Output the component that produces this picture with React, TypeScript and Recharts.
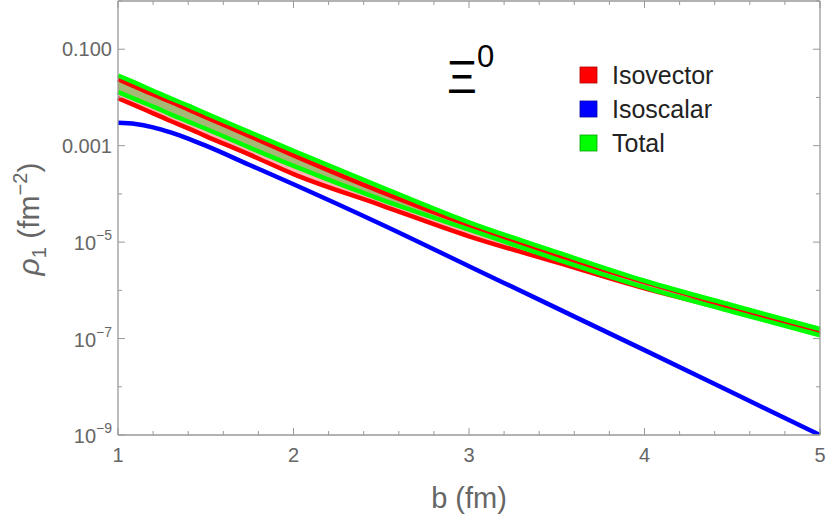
import React from 'react';
import { ComposedChart, Area, Line, XAxis, YAxis } from 'recharts';

// Impact parameter b (fm)
const bValues = [1, 1.1, 1.2, 1.3, 1.4, 1.5, 1.75, 2, 2.5, 3, 3.5, 4, 4.5, 5];

// Isovector band (fm^-2)
const isovectorUpper = [0.024, 0.0166, 0.0115, 0.00813, 0.00562, 0.00389, 0.00158, 6.3e-4, 1.1e-4, 2.24e-5, 5.4e-6, 1.48e-6, 4.6e-7, 1.48e-7];
const isovectorLower = [0.00964, 0.00676, 0.00468, 0.00324, 0.00229, 0.00158, 6.5e-4, 2.57e-4, 5.8e-5, 1.32e-5, 3.8e-6, 1.1e-6, 3.8e-7, 1.23e-7];

// Isoscalar curve (fm^-2)
const isoscalar = [0.00297, 0.00282, 0.0024, 0.00188, 0.0014, 0.001, 3.98e-4, 1.58e-4, 2.34e-5, 3.16e-6, 4.27e-7, 5.75e-8, 7.6e-9, 1.0e-9];

// Total band (fm^-2)
const totalUpper = [0.0285, 0.02, 0.0138, 0.00955, 0.00676, 0.00468, 0.00191, 7.8e-4, 1.38e-4, 2.57e-5, 6.2e-6, 1.58e-6, 4.9e-7, 1.58e-7];
const totalLower = [0.013, 0.00912, 0.00646, 0.00447, 0.00316, 0.00224, 9.1e-4, 3.8e-4, 7.6e-5, 1.82e-5, 4.4e-6, 1.15e-6, 3.6e-7, 1.17e-7];

const xTicks = [1, 1.2, 1.4, 1.6, 1.8, 2, 2.2, 2.4, 2.6, 2.8, 3, 3.2, 3.4, 3.6, 3.8, 4, 4.2, 4.4, 4.6, 4.8, 5];
const xMajor = [1, 2, 3, 4, 5];
const yTicks = [1e-9, 1e-8, 1e-7, 1e-6, 1e-5, 1e-4, 1e-3, 1e-2, 1e-1, 1];

const legendItems = [
  { name: 'Isovector', color: '#ff0000', border: '#b00000' },
  { name: 'Isoscalar', color: '#0000ff', border: '#0000a0' },
  { name: 'Total', color: '#00ff00', border: '#00a000' },
];

const data = bValues.map((b, i) => ({
  b,
  ivHi: isovectorUpper[i],
  ivLo: isovectorLower[i],
  ivBand: [isovectorLower[i], isovectorUpper[i]],
  is: isoscalar[i],
  totHi: totalUpper[i],
  totLo: totalLower[i],
  totBand: [totalLower[i], totalUpper[i]],
}));

const FONT = '"Liberation Sans", Arial, Helvetica, sans-serif';
const AXIS_COLOR = '#999999';
const TICK_TEXT = '#666666';

const W = 834;
const H = 521;

function isMajorX(v: number) {
  return xMajor.some((m) => Math.abs(m - v) < 1e-9);
}

function XTickMark(props: any) {
  const { x, y, payload, side } = props;
  const v = payload.value as number;
  const major = isMajorX(v);
  const len = major ? 7 : 4;
  if (side === 'top') {
    return <line x1={x} y1={y} x2={x} y2={y + len} stroke={AXIS_COLOR} strokeWidth={1} />;
  }
  return (
    <g>
      <line x1={x} y1={y} x2={x} y2={y - len} stroke={AXIS_COLOR} strokeWidth={1} />
      {major && (
        <text x={x} y={y + 27} textAnchor="middle" fill={TICK_TEXT} fontSize={20} fontFamily={FONT}>
          {String(v)}
        </text>
      )}
    </g>
  );
}

function YTickMark(props: any) {
  const { x, y, payload, side } = props;
  const v = payload.value as number;
  const e = Math.round(Math.log10(v));
  const labelled = Math.abs(e) % 2 === 1;
  const len = labelled ? 7 : 4;
  if (side === 'right') {
    return <line x1={x} y1={y} x2={x - len} y2={y} stroke={AXIS_COLOR} strokeWidth={1} />;
  }
  let label: React.ReactNode = null;
  if (labelled) {
    if (e === -1 || e === -3) {
      label = (
        <text x={x - 6} y={y + 7} textAnchor="end" fill={TICK_TEXT} fontSize={20} fontFamily={FONT}>
          {e === -1 ? '0.100' : '0.001'}
        </text>
      );
    } else {
      label = (
        <text x={x - 6} y={y + 8} textAnchor="end" fill={TICK_TEXT} fontSize={20} fontFamily={FONT}>
          <tspan>10</tspan>
          <tspan fontSize={14} dy={-10}>{'\u2212' + Math.abs(e)}</tspan>
        </text>
      );
    }
  }
  return (
    <g>
      <line x1={x} y1={y} x2={x + len} y2={y} stroke={AXIS_COLOR} strokeWidth={1} />
      {label}
    </g>
  );
}

function Overlay() {
  return (
    <svg
      width={W}
      height={H}
      style={{ position: 'absolute', left: 0, top: 0, pointerEvents: 'none' }}
      fontFamily={FONT}
    >
      {/* particle name */}
      <text x={447} y={93} fontSize={46} fill="#000">
        <tspan>Ξ</tspan>
        <tspan fontSize={31} dy={-26}>0</tspan>
      </text>

      {/* legend */}
      {legendItems.map((it, i) => {
        const cy = 75 + i * 34;
        return (
          <g key={it.name}>
            <rect x={580} y={cy - 8} width={17} height={16} fill={it.color} stroke={it.border} strokeWidth={0.8} />
            <text x={612} y={cy + 9} fontSize={25} fill="#222">
              {it.name}
            </text>
          </g>
        );
      })}

      {/* axis titles */}
      <text x={469} y={508} textAnchor="middle" fontSize={29} fill="#666">
        b (fm)
      </text>
      <text transform="rotate(-90 39 219)" x={39} y={219} textAnchor="middle" fontSize={30} fill="#666">
        <tspan fontStyle="italic">ρ</tspan>
        <tspan fontSize={20} dy={7}>1</tspan>
        <tspan dy={-7}>{' (fm'}</tspan>
        <tspan fontSize={20} dy={-12}>{'\u22122'}</tspan>
        <tspan dy={12}>)</tspan>
      </text>
    </svg>
  );
}

export default function App() {
  return (
    <div style={{ position: 'absolute', left: 0, top: 0, width: W, height: H, background: '#fff' }}>
      <ComposedChart width={W} height={H} data={data} margin={{ top: 0, right: 13, bottom: 56, left: 0 }}>
        <XAxis
          xAxisId="bottom"
          dataKey="b"
          type="number"
          domain={[1, 5]}
          ticks={xTicks}
          interval={0}
          height={30}
          tickSize={0}
          tickMargin={0}
          axisLine={{ stroke: AXIS_COLOR, strokeWidth: 1.3 }}
          tickLine={false}
          tick={(p: any) => <XTickMark {...p} side="bottom" />}
        />
        <XAxis
          xAxisId="top"
          orientation="top"
          dataKey="b"
          type="number"
          domain={[1, 5]}
          ticks={xTicks}
          interval={0}
          height={1}
          tickSize={0}
          tickMargin={0}
          axisLine={{ stroke: AXIS_COLOR, strokeWidth: 1.3 }}
          tickLine={false}
          tick={(p: any) => <XTickMark {...p} side="top" />}
        />
        <YAxis
          yAxisId="left"
          type="number"
          scale="log"
          domain={[1e-9, 1]}
          allowDataOverflow
          ticks={yTicks}
          interval={0}
          width={118}
          tickSize={0}
          tickMargin={0}
          axisLine={{ stroke: AXIS_COLOR, strokeWidth: 1.3 }}
          tickLine={false}
          tick={(p: any) => <YTickMark {...p} side="left" />}
        />
        <YAxis
          yAxisId="right"
          orientation="right"
          type="number"
          scale="log"
          domain={[1e-9, 1]}
          allowDataOverflow
          ticks={yTicks}
          interval={0}
          width={1}
          tickSize={0}
          tickMargin={0}
          axisLine={{ stroke: AXIS_COLOR, strokeWidth: 1.3 }}
          tickLine={false}
          tick={(p: any) => <YTickMark {...p} side="right" />}
        />

        <Area
          xAxisId="bottom"
          yAxisId="left"
          dataKey="ivBand"
          type="monotone"
          stroke="none"
          fill="#ffb4b4"
          fillOpacity={1}
          isAnimationActive={false}
        />
        <Area
          xAxisId="bottom"
          yAxisId="left"
          dataKey="totBand"
          type="monotone"
          stroke="none"
          fill="#00c000"
          fillOpacity={0.35}
          isAnimationActive={false}
        />
        <Line xAxisId="bottom" yAxisId="left" dataKey="ivHi" type="monotone" stroke="#ff0000" strokeWidth={4.5} dot={false} isAnimationActive={false} />
        <Line xAxisId="bottom" yAxisId="left" dataKey="ivLo" type="monotone" stroke="#ff0000" strokeWidth={4.5} dot={false} isAnimationActive={false} />
        <Line xAxisId="bottom" yAxisId="left" dataKey="is" type="monotone" stroke="#0000ff" strokeWidth={4.5} dot={false} isAnimationActive={false} />
        <Line xAxisId="bottom" yAxisId="left" dataKey="totHi" type="monotone" stroke="#00ff00" strokeWidth={4.5} dot={false} isAnimationActive={false} />
        <Line xAxisId="bottom" yAxisId="left" dataKey="totLo" type="monotone" stroke="#00ff00" strokeWidth={4.5} dot={false} isAnimationActive={false} />
      </ComposedChart>
      <Overlay />
    </div>
  );
}
